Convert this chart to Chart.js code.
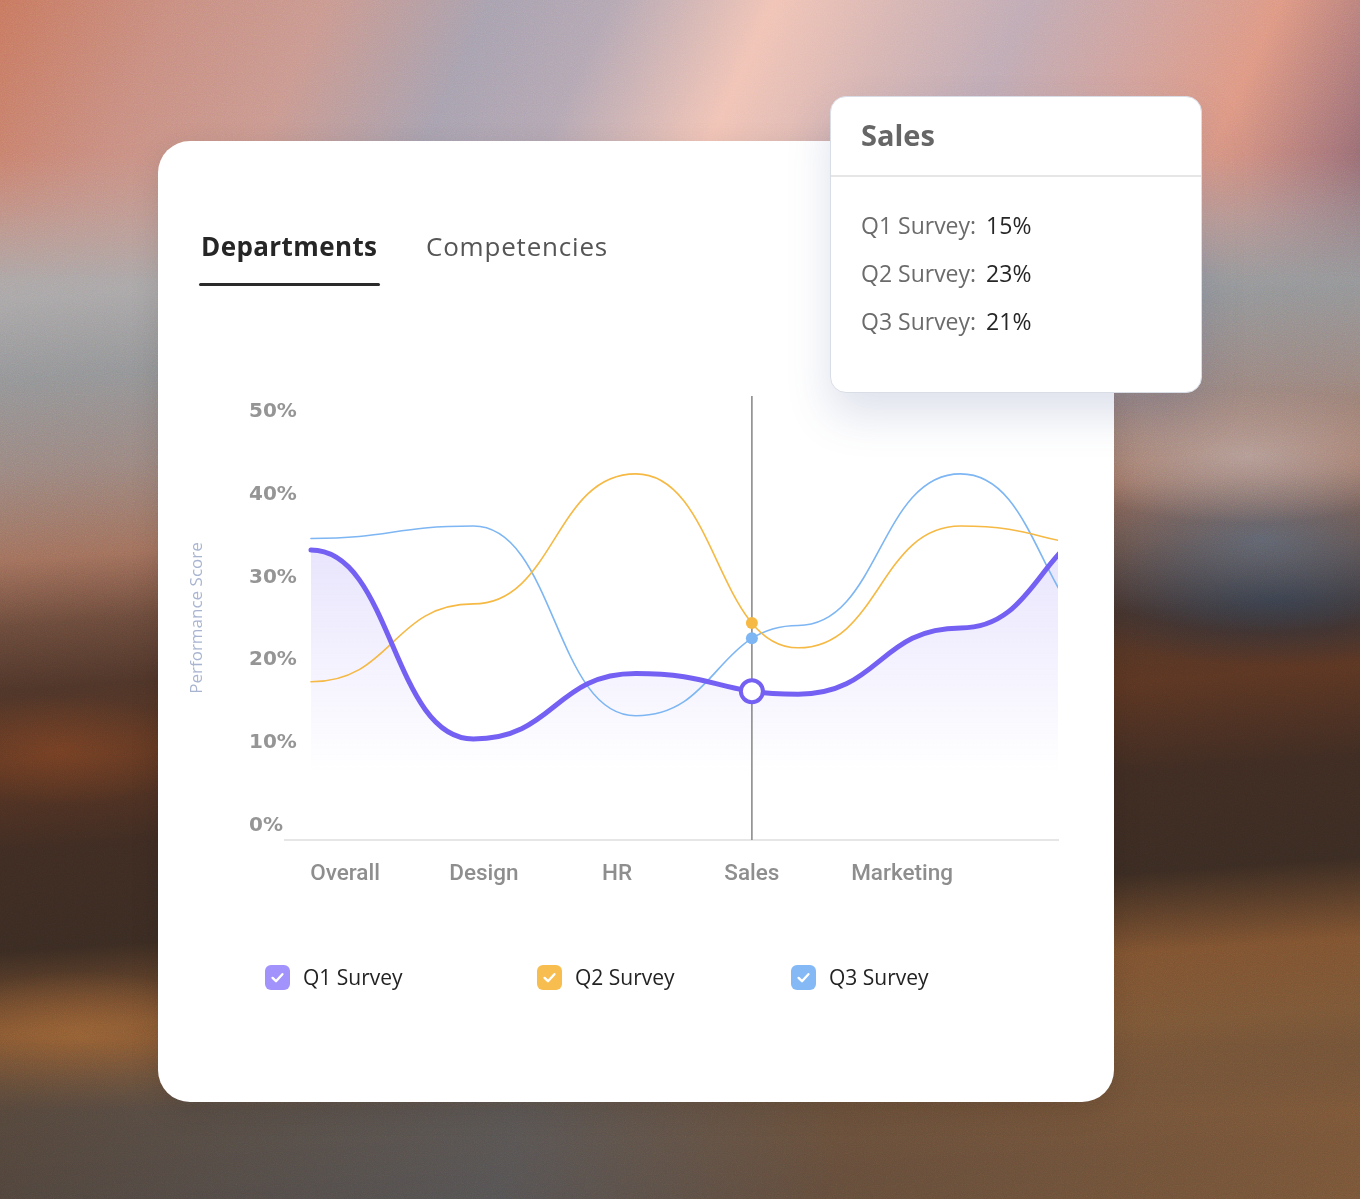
<!DOCTYPE html>
<html>
<head>
<meta charset="utf-8">
<title>Performance Score by Department</title>
<script src="https://cdn.jsdelivr.net/npm/chart.js"></script>
<style>
  html, body { margin: 0; padding: 0; }
  body {
    width: 1360px; height: 1199px; overflow: hidden; position: relative;
    font-family: 'Open Sans', sans-serif;
    /* blurred photo backdrop, faked with gradients */
    background: linear-gradient(176deg,
      #c97c66 0px, #c4968c 120px, #b3a3a0 230px, #a9a6a7 300px, #939496 380px,
      #9a8680 470px, #a06f5b 560px, #6a4a3b 625px, #4d3428 690px, #5a3522 760px,
      #3e2b22 850px, #3a2b22 950px, #7d5230 1030px, #7a5636 1100px, #5a4638 1240px);
  }
  .bg { position: absolute; pointer-events: none; }
  .bg-top {
    left: 0; top: 0; width: 1360px; height: 280px;
    background: linear-gradient(115deg, #c7775f 0%, #c88d80 12%, #c9988f 22%, #a7a0ae 33%, #b3a6b2 41%,
      #f1c3b5 52%, #d8b5b2 60%, #bfaab4 69%, #cfa29e 77%, #de9782 86%, #a87578 94%, #7d5a66 100%);
    -webkit-mask-image: linear-gradient(to bottom, #000 55%, transparent 100%);
    mask-image: linear-gradient(to bottom, #000 55%, transparent 100%);
  }
  .bg-right {
    left: 1080px; top: 330px; width: 280px; height: 420px;
    background:
      radial-gradient(ellipse 70% 16% at 60% 30%, rgba(185,165,160,0.8), rgba(185,165,160,0) 100%),
      radial-gradient(ellipse 80% 22% at 65% 50%, rgba(95,105,120,0.85), rgba(95,105,120,0) 100%),
      radial-gradient(ellipse 80% 16% at 70% 64%, rgba(40,48,62,0.9), rgba(40,48,62,0) 100%);
  }
  .bg-left {
    left: 0; top: 640px; width: 200px; height: 460px;
    background: radial-gradient(ellipse 70% 12% at 30% 24%, rgba(140,72,36,0.5), rgba(140,72,36,0) 100%),
                radial-gradient(ellipse 80% 14% at 40% 86%, rgba(165,105,55,0.55), rgba(165,105,55,0) 100%);
  }
  .bg-bottom {
    left: 0; top: 1040px; width: 1360px; height: 159px;
    background: linear-gradient(100deg, rgba(72,64,60,0.75) 0%, rgba(82,86,92,0.75) 38%, rgba(105,80,60,0.6) 62%, rgba(140,95,55,0.6) 100%);
    -webkit-mask-image: linear-gradient(to bottom, transparent 0%, #000 45%);
    mask-image: linear-gradient(to bottom, transparent 0%, #000 45%);
  }
  .grain {
    left: 0; top: 0; width: 1360px; height: 1199px; opacity: 0.22; mix-blend-mode: overlay;
    background-image: url("data:image/svg+xml;utf8,<svg xmlns='http://www.w3.org/2000/svg' width='300' height='300'><filter id='n'><feTurbulence type='fractalNoise' baseFrequency='0.9' numOctaves='2' stitchTiles='stitch'/></filter><rect width='100%' height='100%' filter='url(%23n)'/></svg>");
  }

  .card {
    position: absolute; left: 158px; top: 141px; width: 956px; height: 961px;
    background: #fff; border-radius: 32px; box-shadow: 0 8px 30px rgba(0,0,0,0.10);
  }
  .tab { position: absolute; top: 86px; font-size: 26px; line-height: 38px; white-space: nowrap; }
  .tab.active { left: 43px; font-weight: 700; color: #262626; letter-spacing: 0.4px; }
  .tab.other { left: 268px; font-weight: 400; color: #555; letter-spacing: 0.8px; }
  .tab-line { position: absolute; left: 41px; top: 142px; width: 181px; height: 3px; background: #2a2a2a; border-radius: 2px; }

  #chartBox { position: absolute; left: 22px; top: 239px; width: 890px; height: 530px; }

  .legend { position: absolute; left: 107px; top: 822px; display: flex; align-items: center; }
  .legend-item { display: flex; align-items: center; font-size: 21px; color: #232323; }
  .legend-item:nth-child(1) { width: 272px; }
  .legend-item:nth-child(2) { width: 254px; }
  .legend-box { width: 25px; height: 25px; border-radius: 6px; margin-right: 13px; display: flex; }

  .tip {
    position: absolute; left: 830px; top: 96px; width: 370px; height: 295px;
    background: #fff; border: 1px solid #d9dde6; border-radius: 16px;
    box-shadow: 0 22px 44px rgba(70, 90, 150, 0.18);
  }
  .tip-title { position: absolute; left: 30px; top: 18px; font-size: 29px; line-height: 40px; font-weight: 700; color: #666; }
  .tip-rule { position: absolute; left: 0; right: 0; top: 78px; height: 2px; background: #e6e6e6; }
  .tip-rows { position: absolute; left: 30px; top: 104px; }
  .tip-row { font-size: 23px; line-height: 48px; color: #6b6b6b; white-space: nowrap; }
  .tip-row b { font-weight: 400; color: #262626; margin-left: 4px; }
</style>
</head>
<body>
<div class="bg bg-top"></div>
<div class="bg bg-right"></div>
<div class="bg bg-left"></div>
<div class="bg bg-bottom"></div>
<div class="bg grain"></div>

<div class="card">
  <div class="tab active">Departments</div>
  <div class="tab other">Competencies</div>
  <div class="tab-line"></div>
  <div id="chartBox"><canvas id="chart"></canvas></div>
  <div class="legend" id="legend"></div>
</div>

<div class="tip">
  <div class="tip-title" id="tipTitle"></div>
  <div class="tip-rule"></div>
  <div class="tip-rows" id="tipRows"></div>
</div>

<script>
// categories and where each label sits along the x scale (points are at 0..5)
const categories = ['Overall', 'Design', 'HR', 'Sales', 'Marketing'];
const categoryAt = [0.21, 1.065, 1.885, 2.715, 3.64];

const seriesNames = ['Q1 Survey', 'Q2 Survey', 'Q3 Survey'];
const q1 = [33.3, 10.5, 18.4, 15.9, 23.9, 36.7];
const q2 = [17.4, 26.8, 42.5, 21.5, 36.2, 33.7];
const q3 = [34.7, 36.2, 13.3, 24.2, 42.5, 22.7];

const yTicks = [0, 10, 20, 30, 40, 50];

// hovered category and the values shown in its tooltip
const hoverCategory = 'Sales';
const hoverValues = [15, 23, 21];

const lineColors = ['#7461f3', '#f5b944', '#7db6f3'];
const boxColors = ['#a193fb', '#f7bd4f', '#84b9f6'];
const lineWidths = [5, 1.6, 1.6];
const seriesValues = [q1, q2, q3];

// html bits: legend + tooltip card
const legendEl = document.getElementById('legend');
seriesNames.forEach((name, i) => {
  const item = document.createElement('div');
  item.className = 'legend-item';
  item.innerHTML = '<span class="legend-box" style="background:' + boxColors[i] + '">' +
    '<svg width="25" height="25" viewBox="0 0 25 25"><path d="M7.6 12.9 L11 16.2 L17.4 9.2" fill="none" stroke="#fff" stroke-width="2.4" stroke-linecap="round" stroke-linejoin="round"/></svg>' +
    '</span>' + name;
  legendEl.appendChild(item);
});
document.getElementById('tipTitle').textContent = hoverCategory;
document.getElementById('tipRows').innerHTML = seriesNames
  .map((name, i) => '<div class="tip-row">' + name + ': <b>' + hoverValues[i] + '%</b></div>')
  .join('');

// every point gets a flat tangent (smooth "bump" curve)
const bumpCurve = {
  id: 'bumpCurve',
  afterDatasetsUpdate(chart) {
    chart.data.datasets.forEach((ds, i) => {
      const meta = chart.getDatasetMeta(i);
      const line = meta.dataset;
      line.updateControlPoints(chart.chartArea, 'x');
      const pts = meta.data;
      pts.forEach((p, k) => {
        const prev = pts[k - 1], next = pts[k + 1];
        p.cp1x = prev ? (prev.x + p.x) / 2 : p.x;
        p.cp1y = p.y;
        p.cp2x = next ? (p.x + next.x) / 2 : p.x;
        p.cp2y = p.y;
      });
      line._path = undefined;
    });
  }
};

function curveYAt(meta, px) {
  const pts = meta.data;
  for (let k = 0; k < pts.length - 1; k++) {
    const a = pts[k], b = pts[k + 1];
    if (px < a.x || px > b.x) continue;
    let lo = 0, hi = 1, t = 0.5;
    for (let n = 0; n < 40; n++) {
      t = (lo + hi) / 2;
      const u = 1 - t;
      const bx = u * u * u * a.x + 3 * u * u * t * a.cp2x + 3 * u * t * t * b.cp1x + t * t * t * b.x;
      if (bx < px) lo = t; else hi = t;
    }
    const u = 1 - t;
    return u * u * u * a.y + 3 * u * u * t * a.cp2y + 3 * u * t * t * b.cp1y + t * t * t * b.y;
  }
  return null;
}

// crosshair behind the lines, markers on top
const hoverMarks = {
  id: 'hoverMarks',
  beforeDatasetsDraw(chart) {
    const {ctx, chartArea, scales} = chart;
    const hx = scales.x.getPixelForValue(categoryAt[categories.indexOf(hoverCategory)]);
    ctx.save();
    ctx.strokeStyle = '#8c8c8c';
    ctx.lineWidth = 1.6;
    ctx.beginPath();
    ctx.moveTo(hx, chartArea.top);
    ctx.lineTo(hx, chartArea.bottom);
    ctx.stroke();
    ctx.restore();
  },
  afterDatasetsDraw(chart) {
    const {ctx, scales} = chart;
    const hx = scales.x.getPixelForValue(categoryAt[categories.indexOf(hoverCategory)]);
    ctx.save();
    for (let i = chart.data.datasets.length - 1; i >= 0; i--) {
      const y = curveYAt(chart.getDatasetMeta(i), hx);
      if (y === null) continue;
      ctx.beginPath();
      if (i === 0) {
        ctx.arc(hx, y, 11, 0, Math.PI * 2);
        ctx.fillStyle = '#fff';
        ctx.fill();
        ctx.lineWidth = 4;
        ctx.strokeStyle = lineColors[0];
        ctx.stroke();
      } else {
        ctx.arc(hx, y, 6, 0, Math.PI * 2);
        ctx.fillStyle = lineColors[i];
        ctx.fill();
      }
    }
    ctx.restore();
  }
};

const datasets = seriesNames.map((name, i) => ({
  label: name,
  data: seriesValues[i].map((v, k) => ({x: k, y: v})),
  borderColor: lineColors[i],
  borderWidth: lineWidths[i],
  borderCapStyle: 'round',
  pointRadius: 0,
  tension: 0.4,
  capBezierPoints: false,
  clip: 0,
  fill: i === 0 ? 'start' : false,
  backgroundColor: i === 0 ? function (c) {
    const area = c.chart.chartArea;
    if (!area) return 'rgba(117,96,243,0.12)';
    const g = c.chart.ctx.createLinearGradient(0, area.top, 0, area.bottom);
    g.addColorStop(0, 'rgba(117,96,243,0.28)');
    g.addColorStop(0.85, 'rgba(117,96,243,0)');
    return g;
  } : 'transparent'
}));

new Chart(document.getElementById('chart'), {
  type: 'line',
  data: { datasets: datasets },
  plugins: [bumpCurve, hoverMarks],
  options: {
    responsive: true,
    maintainAspectRatio: false,
    animation: false,
    events: [],
    layout: { padding: { left: 69, right: 12, top: 16, bottom: 0 } },
    plugins: {
      legend: { display: false },
      tooltip: { enabled: false },
      filler: { drawTime: 'beforeDatasetsDraw' }
    },
    scales: {
      x: {
        type: 'linear',
        min: -0.16,
        max: 4.6,
        afterBuildTicks: s => { s.ticks = categoryAt.map(v => ({value: v})); },
        afterFit: s => { s.height = 70; },
        grid: { display: false, drawTicks: false },
        border: { display: true, color: '#e6e6e6', width: 2 },
        ticks: {
          autoSkip: false,
          maxRotation: 0,
          padding: 21,
          color: '#8e8e8e',
          font: { family: 'Roboto', size: 22.5, weight: '500' },
          callback: (v, i) => categories[i]
        }
      },
      y: {
        min: -1.7,
        max: 51.9,
        afterBuildTicks: s => { s.ticks = yTicks.map(v => ({value: v})); },
        afterFit: s => { s.width = 36; },
        grid: { display: false, drawTicks: false },
        border: { display: false },
        ticks: {
          mirror: true,
          crossAlign: 'near',
          padding: -36,
          color: '#959595',
          font: { family: 'DejaVu Sans', size: 20, weight: 'bold' },
          callback: v => v + '%'
        },
        title: {
          display: true,
          text: 'Performance Score',
          color: '#a9b5d0',
          font: { family: 'Open Sans', size: 17 },
          padding: { top: -62, bottom: 0 }
        }
      }
    }
  }
});
</script>
</body>
</html>
